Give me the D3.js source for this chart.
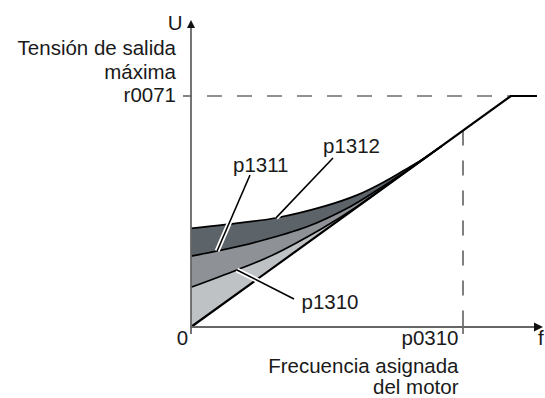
<!DOCTYPE html>
<html>
<head>
<meta charset="utf-8">
<script src="https://cdn.jsdelivr.net/npm/d3@7"></script>
<style>
  html, body { margin: 0; padding: 0; background: #fff; }
  svg { display: block; }
  text { font-family: "Liberation Sans", Arial, sans-serif; font-size: 20.5px; fill: #1a1a1a; }
</style>
</head>
<body>
<svg id="chart" width="545" height="398"></svg>
<script>
// ---- data (f in % of p0310, U in % of r0071) ----
const lineF  = [0, 117.6, 127.2];
const lineU  = [0, 100, 100];
const p1312F = [0, 11.8, 31.6, 48.5, 61, 70.6, 78, 85, 92];
const p1312U = [42.7, 44.2, 47.3, 52.1, 57.1, 62.6, 67.6, 72.5, 78.2];
const p1311F = [0, 9.6, 24.3, 42.6, 58.5, 68.4, 77.9, 85, 92];
const p1311U = [30.7, 32.9, 36.9, 43.4, 52.1, 59.2, 66.6, 72.4, 78.2];
const p1310F = [0, 16.9, 30.1, 48.5, 61, 73.2, 85, 92];
const p1310U = [17.2, 24.7, 31.2, 42.9, 52.1, 62.3, 72.3, 78.2];
const curveNames  = ["p1312", "p1311", "p1310"];
const curveFills  = ["#5c6369", "#8e9297", "#bfc2c5"];
const leaderF     = [31.25, 9.6, 16.9];
const refF = 100;          // p0310
const refU = 100;          // r0071
const yTexts = ["U", "Tensión de salida", "máxima", "r0071"];
const xTexts = ["0", "p0310", "f", "Frecuencia asignada", "del motor"];

const svg = d3.select("#chart");
const x = d3.scaleLinear().domain([0, 100]).range([191, 463]);
const y = d3.scaleLinear().domain([0, 100]).range([327, 96]);

const zip = (F, U) => F.map((f, i) => [f, U[i]]);
const curves = [zip(p1312F, p1312U), zip(p1311F, p1311U), zip(p1310F, p1310U)];
const mainLine = zip(lineF, lineU);

const lineGen = d3.line().x(d => x(d[0])).y(d => y(d[1])).curve(d3.curveCatmullRom.alpha(0.5));
const straight = d3.line().x(d => x(d[0])).y(d => y(d[1]));

// fills: region between each curve and the straight line
curves.forEach((pts, i) => {
  svg.append("path")
    .attr("d", lineGen(pts) + `L${x(0)},${y(0)}Z`)
    .attr("fill", curveFills[i])
    .attr("stroke", "none");
});
// curve strokes
curves.forEach(pts => {
  svg.append("path").attr("d", lineGen(pts))
    .attr("fill", "none").attr("stroke", "#000").attr("stroke-width", 1.7);
});

// dashed guides
const lineAt = f => f * lineU[1] / lineF[1];
svg.append("line")
  .attr("x1", x(0) + 1).attr("x2", x(lineF[1])).attr("y1", y(refU)).attr("y2", y(refU))
  .attr("stroke", "#6e6e6e").attr("stroke-width", 1.6)
  .attr("stroke-dasharray", "15,15").attr("stroke-dashoffset", 15);
svg.append("line")
  .attr("x1", x(refF)).attr("x2", x(refF)).attr("y1", y(lineAt(refF))).attr("y2", y(0) - 15)
  .attr("stroke", "#555").attr("stroke-width", 1.5)
  .attr("stroke-dasharray", "15,15");
svg.append("line")
  .attr("x1", x(refF)).attr("x2", x(refF)).attr("y1", y(0) - 15).attr("y2", y(0) + 7)
  .attr("stroke", "#555").attr("stroke-width", 1.5);

// main V/f line with plateau
svg.append("path").attr("d", straight(mainLine))
  .attr("fill", "none").attr("stroke", "#000").attr("stroke-width", 2.2);

// axes
const x0 = x(0), y0 = y(0);
svg.append("line").attr("x1", x0).attr("x2", x0).attr("y1", y0 + 7).attr("y2", 27)
  .attr("stroke", "#666").attr("stroke-width", 1.8);
svg.append("line").attr("x1", x0 - 1).attr("x2", 536).attr("y1", y0).attr("y2", y0)
  .attr("stroke", "#666").attr("stroke-width", 1.8);
svg.append("path").attr("d", `M${x0},20L${x0 + 4},28L${x0 - 4},28Z`).attr("fill", "#111");
svg.append("path").attr("d", `M543,${y0}L534,${y0 - 4.5}L534,${y0 + 4.5}Z`).attr("fill", "#111");
svg.append("line").attr("x1", x0 - 8).attr("x2", x0 + 1).attr("y1", y(refU)).attr("y2", y(refU))
  .attr("stroke", "#666").attr("stroke-width", 1.6);

// leader lines (white halo + black)
function interp(F, U, f) {
  for (let i = 0; i < F.length - 1; i++) {
    if (f >= F[i] && f <= F[i + 1]) return U[i] + (U[i + 1] - U[i]) * (f - F[i]) / (F[i + 1] - F[i]);
  }
  return U[U.length - 1];
}
const curveF = [p1312F, p1311F, p1310F], curveU = [p1312U, p1311U, p1310U];
const labelPos = [
  { tx: 323, ty: 152.7, lx: 333, ly: 158 },
  { tx: 233, ty: 171.5, lx: 250, ly: 175 },
  { tx: 301.5, ty: 309, lx: 294, ly: 299 }
];
curveNames.forEach((name, i) => {
  const ax = x(leaderF[i]), ay = y(interp(curveF[i], curveU[i], leaderF[i]));
  const p = labelPos[i];
  svg.append("line").attr("x1", p.lx).attr("y1", p.ly).attr("x2", ax).attr("y2", ay)
    .attr("stroke", "#fff").attr("stroke-width", 5).attr("stroke-linecap", "butt");
  svg.append("line").attr("x1", p.lx).attr("y1", p.ly).attr("x2", ax).attr("y2", ay)
    .attr("stroke", "#000").attr("stroke-width", 1.6);
  svg.append("text").attr("x", p.tx).attr("y", p.ty).text(name);
});

// axis texts
const yTextPos = [[182.5, 29.5], [176, 55], [176, 79], [176, 102]];
yTexts.forEach((t, i) => {
  svg.append("text").attr("x", yTextPos[i][0]).attr("y", yTextPos[i][1])
    .attr("text-anchor", "end").text(t);
});
const xTextPos = [[182.5, 345, "middle"], [458.5, 345, "end"], [538, 345, "start"],
                  [458.5, 373, "end"], [458.5, 394, "end"]];
xTexts.forEach((t, i) => {
  svg.append("text").attr("x", xTextPos[i][0]).attr("y", xTextPos[i][1])
    .attr("text-anchor", xTextPos[i][2]).text(t);
});
</script>
</body>
</html>
